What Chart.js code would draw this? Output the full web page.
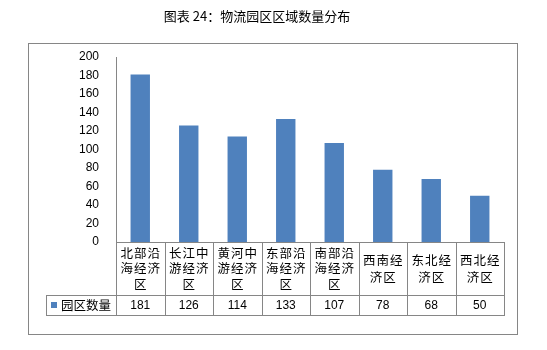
<!DOCTYPE html>
<html lang="zh-CN">
<head>
<meta charset="UTF-8" />
<title>物流园区区域数量分布</title>
<style>
  body { margin: 0; background: #ffffff; }
  canvas { display: block; }
</style>
</head>
<body>
<canvas id="parkChart" width="547" height="350"></canvas>
<script src="https://cdn.jsdelivr.net/npm/chart.js"></script>
<script>
var chartTitle = "图表 24：物流园区区域数量分布";
var seriesName = "园区数量";
// each category is split into the lines shown in the table cell
var regions = [
  ["北部沿", "海经济", "区"],
  ["长江中", "游经济", "区"],
  ["黄河中", "游经济", "区"],
  ["东部沿", "海经济", "区"],
  ["南部沿", "海经济", "区"],
  ["西南经", "济区"],
  ["东北经", "济区"],
  ["西北经", "济区"]
];
var parkCounts = [181, 126, 114, 133, 107, 78, 68, 50];
var yMin = 0, yMax = 200, yStep = 20;

var barBlue = "#4f81bd";
var lineGray = "#868686";
var cjkFont = '"Noto Sans CJK SC", "Noto Sans", sans-serif';
var numFont = '"Liberation Sans", Arial, sans-serif';

function crisp(v) { return Math.round(v) + 0.5; }

function hline(ctx, x1, x2, y) {
  ctx.beginPath();
  ctx.moveTo(crisp(x1) - 0.5, crisp(y));
  ctx.lineTo(crisp(x2) + 0.5, crisp(y));
  ctx.stroke();
}

function vline(ctx, x, y1, y2) {
  ctx.beginPath();
  ctx.moveTo(crisp(x), crisp(y1) - 0.5);
  ctx.lineTo(crisp(x), crisp(y2) + 0.5);
  ctx.stroke();
}

// outer border and heading
var framePlugin = {
  id: "frame",
  beforeDraw: function (chart) {
    var ctx = chart.ctx;
    ctx.save();
    ctx.fillStyle = "#ffffff";
    ctx.fillRect(0, 0, chart.width, chart.height);
    ctx.strokeStyle = lineGray;
    ctx.lineWidth = 1;
    ctx.strokeRect(28.5, 43.5, 489, 291);
    ctx.fillStyle = "#000000";
    ctx.font = "13px " + cjkFont;
    ctx.textAlign = "center";
    ctx.textBaseline = "middle";
    ctx.fillText(chartTitle, 257, 16);
    ctx.restore();
  }
};

// data table under the plot: category names, legend key and values
var tablePlugin = {
  id: "dataTable",
  afterDraw: function (chart) {
    var ctx = chart.ctx;
    var area = chart.chartArea;
    var xs = chart.scales.x;
    var n = regions.length;
    var colW = (area.right - area.left) / n;
    var top = area.bottom;
    var mid = top + 53;
    var bottom = top + 73;
    var legendLeft = 46;

    ctx.save();
    ctx.strokeStyle = lineGray;
    ctx.lineWidth = 1;
    hline(ctx, area.left, area.right, top);
    hline(ctx, legendLeft, area.right, mid);
    hline(ctx, legendLeft, area.right, bottom);
    vline(ctx, legendLeft, mid, bottom);
    for (var i = 0; i <= n; i++) {
      vline(ctx, area.left + i * colW, top, bottom);
    }

    ctx.fillStyle = "#000000";
    ctx.textAlign = "center";
    ctx.textBaseline = "middle";
    var cellMid = (top + mid) / 2;
    for (var j = 0; j < n; j++) {
      var cx = xs.getPixelForTick(j);
      var lines = regions[j];
      var lh = lines.length > 2 ? 15.5 : 17;
      var y0 = cellMid - (lines.length - 1) * lh / 2;
      ctx.font = "12.5px " + cjkFont;
      ctx.letterSpacing = "1px";
      for (var k = 0; k < lines.length; k++) {
        ctx.fillText(lines[k], cx + 0.5, y0 + k * lh);
      }
      ctx.letterSpacing = "0px";
      ctx.font = "12px " + numFont;
      ctx.fillText(String(parkCounts[j]), cx, (mid + bottom) / 2 + 1);
    }

    // legend key
    ctx.fillStyle = barBlue;
    ctx.fillRect(51, 302, 6, 6);
    ctx.fillStyle = "#000000";
    ctx.textAlign = "left";
    ctx.font = "12.5px " + cjkFont;
    ctx.fillText(seriesName, 61, (mid + bottom) / 2);
    ctx.restore();
  }
};

var ctx = document.getElementById("parkChart").getContext("2d");
var parkChart = new Chart(ctx, {
  type: "bar",
  data: {
    labels: regions.map(function (r) { return r.join(""); }),
    datasets: [
      {
        label: seriesName,
        data: parkCounts,
        backgroundColor: barBlue,
        borderWidth: 0,
        categoryPercentage: 1,
        barPercentage: 0.4
      }
    ]
  },
  options: {
    responsive: false,
    animation: false,
    layout: { padding: { left: 0, top: 57, right: 43, bottom: 35 } },
    plugins: {
      legend: { display: false },
      title: { display: false },
      tooltip: { enabled: false }
    },
    scales: {
      x: {
        grid: { display: false },
        border: { display: true, color: lineGray },
        ticks: { display: false },
        afterFit: function (scale) { scale.height = 73; }
      },
      y: {
        min: yMin,
        max: yMax,
        grid: { display: false },
        border: { display: true, color: lineGray },
        ticks: {
          stepSize: yStep,
          padding: 9,
          color: "#000000",
          font: { family: numFont, size: 12 }
        },
        afterFit: function (scale) { scale.width = 116; }
      }
    }
  },
  plugins: [framePlugin, tablePlugin]
});
</script>
</body>
</html>
